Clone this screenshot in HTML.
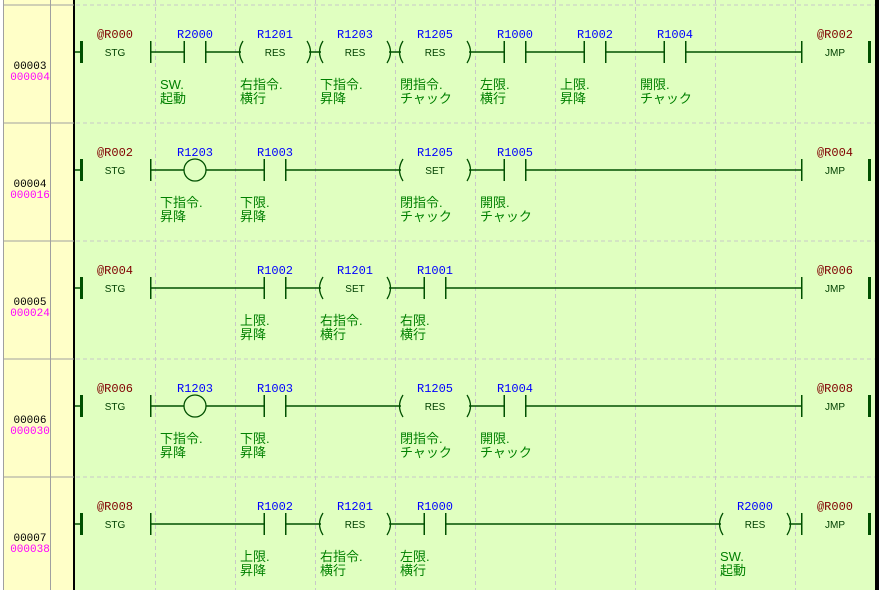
<!DOCTYPE html>
<html><head><meta charset="utf-8"><style>
html,body{margin:0;padding:0;background:#fff;}
svg{display:block}
.a{font:12px "Liberation Mono","DejaVu Sans Mono",monospace;fill:#0000ff;text-anchor:middle}
.r{font:12px "Liberation Mono","DejaVu Sans Mono",monospace;fill:#800000;text-anchor:middle}
.s{font:10px "Liberation Sans",sans-serif;fill:#004000;text-anchor:middle}
.c{font:13px "Liberation Sans","Noto Sans CJK JP",sans-serif;fill:#008000}
.n{font:11px "Liberation Mono",monospace;fill:#000;text-anchor:middle}
.m{font:11px "Liberation Mono",monospace;fill:#ff00ff;text-anchor:middle}
</style></head><body>
<svg width="879" height="590" xmlns="http://www.w3.org/2000/svg">
<defs>
<g id="base">
 <line x1="3" y1="0" x2="74" y2="0" stroke="#a0a0a0"/>
 <line x1="76" y1="0" x2="875" y2="0" stroke="#c8c8c8" stroke-dasharray="4,3"/>
 <line x1="75" y1="47" x2="81" y2="47" stroke="#005000" stroke-width="1.5"/>
 <rect x="80" y="36" width="3" height="22" fill="#005000"/>
 <rect x="150" y="36" width="1.5" height="22" fill="#005000"/>
 <rect x="801" y="36" width="1.5" height="22" fill="#005000"/>
 <rect x="868" y="36" width="3" height="22" fill="#005000"/>
 <text x="115" y="51" class="s">STG</text>
 <text x="835" y="51" class="s">JMP</text>
 <line x1="150" y1="47" x2="802" y2="47" stroke="#005000" stroke-width="1.5"/>
</g>
<g id="ct">
 <rect x="-10" y="40" width="20" height="14" fill="#e0ffc0"/>
 <rect x="-11.5" y="36" width="1.5" height="22" fill="#005000"/>
 <rect x="10" y="36" width="1.5" height="22" fill="#005000"/>
</g>
<g id="co">
 <rect x="-34" y="38" width="68" height="18" fill="#e0ffc0"/>
 <path d="M-32,36 Q-39,47 -32,58 M32,36 Q39,47 32,58" fill="none" stroke="#005000" stroke-width="1.3"/>
</g>
<g id="ci">
 <circle cx="0" cy="47" r="11" fill="#e0ffc0" stroke="#005000" stroke-width="1.3"/>
</g>
</defs>
<rect x="0" y="0" width="879" height="590" fill="#fff"/>
<rect x="3" y="0" width="71" height="590" fill="#ffffc8"/>
<line x1="3.5" y1="0" x2="3.5" y2="590" stroke="#a0a0a0"/>
<line x1="50.5" y1="0" x2="50.5" y2="590" stroke="#a0a0a0"/>
<rect x="75" y="0" width="800" height="590" fill="#e0ffc0"/>
<rect x="73" y="0" width="2" height="590" fill="#000"/>
<rect x="875" y="0" width="4" height="590" fill="#000"/>
<g stroke="#c8c8c8" stroke-dasharray="4,3">
<line x1="155.5" y1="0" x2="155.5" y2="590"/><line x1="235.5" y1="0" x2="235.5" y2="590"/>
<line x1="315.5" y1="0" x2="315.5" y2="590"/><line x1="395.5" y1="0" x2="395.5" y2="590"/>
<line x1="475.5" y1="0" x2="475.5" y2="590"/><line x1="555.5" y1="0" x2="555.5" y2="590"/>
<line x1="635.5" y1="0" x2="635.5" y2="590"/><line x1="715.5" y1="0" x2="715.5" y2="590"/>
<line x1="795.5" y1="0" x2="795.5" y2="590"/>
</g>

<!-- Row 0 -->
<g transform="translate(0,5)">
<use href="#base"/>
<text x="30" y="64" class="n">00003</text><text x="30" y="75" class="m">000004</text>
<text x="115" y="33" class="r">@R000</text><text x="835" y="33" class="r">@R002</text>
<g transform="translate(195,0)"><use href="#ct"/><text y="33" class="a">R2000</text><text x="-35" y="84" class="c">SW.</text><text x="-35" y="98" class="c">起動</text></g>
<g transform="translate(275,0)"><use href="#co"/><text y="33" class="a">R1201</text><text y="51" class="s">RES</text><text x="-35" y="84" class="c">右指令.</text><text x="-35" y="98" class="c">横行</text></g>
<g transform="translate(355,0)"><use href="#co"/><text y="33" class="a">R1203</text><text y="51" class="s">RES</text><text x="-35" y="84" class="c">下指令.</text><text x="-35" y="98" class="c">昇降</text></g>
<g transform="translate(435,0)"><use href="#co"/><text y="33" class="a">R1205</text><text y="51" class="s">RES</text><text x="-35" y="84" class="c">閉指令.</text><text x="-35" y="98" class="c">チャック</text></g>
<g transform="translate(515,0)"><use href="#ct"/><text y="33" class="a">R1000</text><text x="-35" y="84" class="c">左限.</text><text x="-35" y="98" class="c">横行</text></g>
<g transform="translate(595,0)"><use href="#ct"/><text y="33" class="a">R1002</text><text x="-35" y="84" class="c">上限.</text><text x="-35" y="98" class="c">昇降</text></g>
<g transform="translate(675,0)"><use href="#ct"/><text y="33" class="a">R1004</text><text x="-35" y="84" class="c">開限.</text><text x="-35" y="98" class="c">チャック</text></g>
</g>

<!-- Row 1 -->
<g transform="translate(0,123)">
<use href="#base"/>
<text x="30" y="64" class="n">00004</text><text x="30" y="75" class="m">000016</text>
<text x="115" y="33" class="r">@R002</text><text x="835" y="33" class="r">@R004</text>
<g transform="translate(195,0)"><use href="#ci"/><text y="33" class="a">R1203</text><text x="-35" y="84" class="c">下指令.</text><text x="-35" y="98" class="c">昇降</text></g>
<g transform="translate(275,0)"><use href="#ct"/><text y="33" class="a">R1003</text><text x="-35" y="84" class="c">下限.</text><text x="-35" y="98" class="c">昇降</text></g>
<g transform="translate(435,0)"><use href="#co"/><text y="33" class="a">R1205</text><text y="51" class="s">SET</text><text x="-35" y="84" class="c">閉指令.</text><text x="-35" y="98" class="c">チャック</text></g>
<g transform="translate(515,0)"><use href="#ct"/><text y="33" class="a">R1005</text><text x="-35" y="84" class="c">開限.</text><text x="-35" y="98" class="c">チャック</text></g>
</g>

<!-- Row 2 -->
<g transform="translate(0,241)">
<use href="#base"/>
<text x="30" y="64" class="n">00005</text><text x="30" y="75" class="m">000024</text>
<text x="115" y="33" class="r">@R004</text><text x="835" y="33" class="r">@R006</text>
<g transform="translate(275,0)"><use href="#ct"/><text y="33" class="a">R1002</text><text x="-35" y="84" class="c">上限.</text><text x="-35" y="98" class="c">昇降</text></g>
<g transform="translate(355,0)"><use href="#co"/><text y="33" class="a">R1201</text><text y="51" class="s">SET</text><text x="-35" y="84" class="c">右指令.</text><text x="-35" y="98" class="c">横行</text></g>
<g transform="translate(435,0)"><use href="#ct"/><text y="33" class="a">R1001</text><text x="-35" y="84" class="c">右限.</text><text x="-35" y="98" class="c">横行</text></g>
</g>

<!-- Row 3 -->
<g transform="translate(0,359)">
<use href="#base"/>
<text x="30" y="64" class="n">00006</text><text x="30" y="75" class="m">000030</text>
<text x="115" y="33" class="r">@R006</text><text x="835" y="33" class="r">@R008</text>
<g transform="translate(195,0)"><use href="#ci"/><text y="33" class="a">R1203</text><text x="-35" y="84" class="c">下指令.</text><text x="-35" y="98" class="c">昇降</text></g>
<g transform="translate(275,0)"><use href="#ct"/><text y="33" class="a">R1003</text><text x="-35" y="84" class="c">下限.</text><text x="-35" y="98" class="c">昇降</text></g>
<g transform="translate(435,0)"><use href="#co"/><text y="33" class="a">R1205</text><text y="51" class="s">RES</text><text x="-35" y="84" class="c">閉指令.</text><text x="-35" y="98" class="c">チャック</text></g>
<g transform="translate(515,0)"><use href="#ct"/><text y="33" class="a">R1004</text><text x="-35" y="84" class="c">開限.</text><text x="-35" y="98" class="c">チャック</text></g>
</g>

<!-- Row 4 -->
<g transform="translate(0,477)">
<use href="#base"/>
<text x="30" y="64" class="n">00007</text><text x="30" y="75" class="m">000038</text>
<text x="115" y="33" class="r">@R008</text><text x="835" y="33" class="r">@R000</text>
<g transform="translate(275,0)"><use href="#ct"/><text y="33" class="a">R1002</text><text x="-35" y="84" class="c">上限.</text><text x="-35" y="98" class="c">昇降</text></g>
<g transform="translate(355,0)"><use href="#co"/><text y="33" class="a">R1201</text><text y="51" class="s">RES</text><text x="-35" y="84" class="c">右指令.</text><text x="-35" y="98" class="c">横行</text></g>
<g transform="translate(435,0)"><use href="#ct"/><text y="33" class="a">R1000</text><text x="-35" y="84" class="c">左限.</text><text x="-35" y="98" class="c">横行</text></g>
<g transform="translate(755,0)"><use href="#co"/><text y="33" class="a">R2000</text><text y="51" class="s">RES</text><text x="-35" y="84" class="c">SW.</text><text x="-35" y="98" class="c">起動</text></g>
</g>
</svg>
</body></html>
